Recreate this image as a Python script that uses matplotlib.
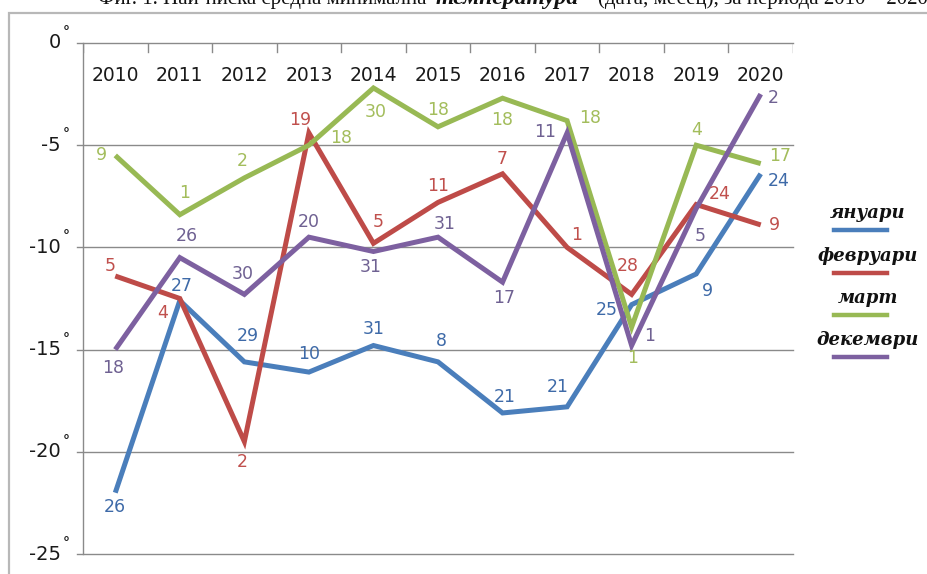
import matplotlib.pyplot as plt
from matplotlib.lines import Line2D
from matplotlib.patches import Rectangle

years = ['2010', '2011', '2012', '2013', '2014', '2015',
         '2016', '2017', '2018', '2019', '2020']
month_names = ['януари', 'февруари', 'март', 'декември']
y_levels = [0, -5, -10, -15, -20, -25]

# lowest monthly temperature per year (°C)
jan = [-22.0, -12.6, -15.6, -16.1, -14.8, -15.6, -18.1, -17.8, -12.8, -11.3, -6.4]
feb = [-11.4, -12.5, -19.5, -4.4, -9.8, -7.8, -6.4, -10.0, -12.3, -7.9, -8.9]
mar = [-5.5, -8.4, -6.6, -5.0, -2.2, -4.1, -2.7, -3.8, -13.9, -5.0, -5.9]
dec = [-15.0, -10.5, -12.3, -9.5, -10.2, -9.5, -11.7, -4.4, -14.8, -8.1, -2.5]

# day of the month on which the minimum was measured
jan_day = [26, 27, 29, 10, 31, 8, 21, 21, 25, 9, 24]
feb_day = [5, 4, 2, 19, 5, 11, 7, 1, 28, 24, 9]
mar_day = [9, 1, 2, 18, 30, 18, 18, 18, 1, 4, 17]
dec_day = [18, 26, 30, 20, 31, 31, 17, 11, 1, 5, 2]

line_colors = ['#4a7ebb', '#be4b48', '#98b954', '#7d60a0']
text_colors = ['#3e6aa8', '#c0504d', '#a3bd5c', '#6f6192']

# label offsets in pixels from each point
jan_off = [(0, -14), (2, 15), (3, 26), (0, 18), (0, 17), (3, 21), (2, 16),
           (-9, 20), (-25, -5), (11, -17), (18, -7)]
feb_off = [(-5, 10), (-17, -14), (-2, -20), (-9, 13), (5, 21), (0, 16),
           (0, 15), (10, 12), (-4, 28), (24, 10), (14, 0)]
mar_off = [(-14, 0), (5, 22), (-2, 17), (32, 7), (2, -24), (0, 17),
           (0, -22), (23, 3), (1, -31), (0, 15), (19, 8)]
dec_off = [(-2, -18), (7, 22), (-2, 20), (0, 15), (-3, -16), (7, 13),
           (2, -16), (-22, 1), (18, 10), (4, -27), (13, -4)]

series = [(jan, jan_day, jan_off), (feb, feb_day, feb_off),
          (mar, mar_day, mar_off), (dec, dec_day, dec_off)]

W, H = 928, 574
fig = plt.figure(figsize=(W / 100, H / 100), dpi=100)
fig.patch.set_facecolor('white')

# outer chart frame
fig.patches.append(Rectangle((9 / W, -0.1), 1.2, 1 - 13 / H + 0.1,
                             transform=fig.transFigure, fill=False,
                             edgecolor='#b8b8b8', linewidth=1.6))

ax = fig.add_axes([83 / W, 1 - 554 / H, 710 / W, 511 / H])
x = [i + 0.5 for i in range(len(years))]

for (vals, days, offs), lc, tc in zip(series, line_colors, text_colors):
    ax.plot(x, vals, color=lc, linewidth=3.6, solid_joinstyle='miter',
            solid_capstyle='butt', zorder=3)
    for xi, v, d, (dx, dy) in zip(x, vals, days, offs):
        ax.annotate(str(d), (xi, v), xytext=(dx, dy),
                    textcoords='offset pixels', ha='center', va='center',
                    fontsize=12.5, color=tc, zorder=4)

ax.set_xlim(0, 11)
ax.set_ylim(-25, 0)

for g in y_levels:
    ax.plot([-0.09, 11], [g, g], color='#8a8a8a', linewidth=1.0,
            clip_on=False, zorder=1)
    # tick label plus a raised degree sign, placed in figure pixels
    yp = ax.transData.transform((0, g))[1]
    fig.text(61 / W, yp / H, str(g), ha='right', va='center', fontsize=14,
             color='#1a1a1a')
    fig.text(63 / W, (yp + 11) / H, '°', ha='left', va='center',
             fontsize=10, color='#1a1a1a', fontweight='bold')

# category ticks hanging from the top axis line
for b in range(12):
    ax.plot([b, b], [0, -0.42], color='#8a8a8a', linewidth=1.0, zorder=1)

for xi, yr in zip(x, years):
    ax.text(xi, -1.6, yr, ha='center', va='center', fontsize=13.5,
            color='#1a1a1a')

ax.set_xticks([])
ax.set_yticks([])
for side in ['right', 'bottom', 'top']:
    ax.spines[side].set_visible(False)
ax.spines['left'].set_color('#8a8a8a')
ax.spines['left'].set_linewidth(1.0)

# legend drawn at the right of the plot
leg_y = [213, 256, 298, 340]
for name, lc, yy in zip(month_names, line_colors, leg_y):
    fig.text(868 / W, 1 - yy / H, name, ha='center', va='center',
             fontsize=13, family='DejaVu Serif', style='italic',
             fontweight='bold', color='#111111')
    fig.add_artist(Line2D([834 / W, 887 / W],
                          [1 - (yy + 17) / H, 1 - (yy + 17) / H],
                          color=lc, linewidth=3.2))

# caption above the chart, cut off by the top edge
cap_y = 1 - 4 / H
fig.text(432 / W, cap_y, 'Фиг. 1. Най-ниска средна минимална ',
         ha='right', va='baseline', fontsize=15, family='Liberation Serif',
         color='#111111')
fig.text(436 / W, cap_y, 'температура', ha='left', va='baseline',
         fontsize=17, family='Liberation Serif', style='italic',
         fontweight='bold', color='#111111')
fig.text(598 / W, cap_y, '(дата, месец), за периода 2010 – 2020 г.',
         ha='left', va='baseline', fontsize=15, family='Liberation Serif',
         color='#111111')

fig.savefig('out.png', dpi=100)
